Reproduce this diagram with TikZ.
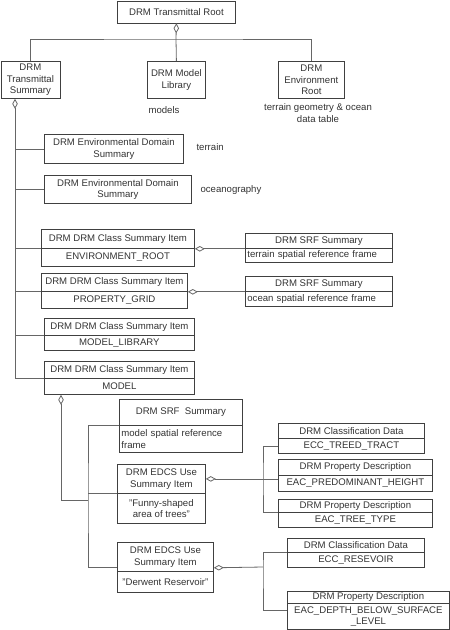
\documentclass[tikz,border=0pt]{standalone}
\usepackage{fontspec}
\setmainfont{Liberation Sans}
\usetikzlibrary{arrows.meta}

\begin{document}
	\begin{tikzpicture}[ x = 1pt, y = -1pt,
		every node/.style = { font = \fontsize{9.6}{11.5}\selectfont, text = black!80 },
		box/.style = { draw = black!75, line width = 0.8pt, anchor = north west, inner sep = 0pt, align = center },
		lbox/.style = { box, align = left, inner xsep = 2pt },
		link/.style = { draw = black!60, line width = 0.8pt },
		agg/.style = { link, {Diamond[ open, length = 10pt, width = 5.5pt ]}- } ]
		\useasboundingbox ( 0, 0 ) rectangle ( 450, 630 );

		% верхний уровень
		\node [ box, minimum width = 118pt, minimum height = 22pt ] (root) at ( 117, 0.5 ) {DRM Transmittal Root};
		\node [ box, minimum width = 59pt, minimum height = 37pt ] (tsum) at ( 0.5, 61 ) {DRM\\Transmittal\\Summary};
		\node [ box, minimum width = 58pt, minimum height = 37pt ] (mlib) at ( 147, 61 ) {DRM Model\\Library};
		\node [ box, minimum width = 66pt, minimum height = 37pt ] (envr) at ( 278, 61 ) {DRM\\Environment\\Root};
		\node (models) at ( 164, 110 ) {models};
		\node [ align = center ] (envtxt) at ( 318, 113 ) {terrain geometry \& ocean\\data table};
		\draw [ agg ] (root.south) -- ( 176, 39 ) coordinate (bus);
		\draw [ link ] (tsum.north) |- (bus) -| (envr.north);
		\draw [ link ] (bus) -- (mlib.north);

		% домены
		\node [ box, minimum width = 139pt, minimum height = 29pt ] (eds1) at ( 44, 134 ) {DRM Environmental Domain\\Summary};
		\node [ anchor = west ] (terrain) at ( 193, 147 ) {terrain};
		\node [ box, minimum width = 147pt, minimum height = 28pt ] (eds2) at ( 44, 175 ) {DRM Environmental Domain\\Summary};
		\node [ anchor = west ] (ocean) at ( 197, 190 ) {oceanography};

		% элементы классов
		\node [ box, minimum width = 153pt, minimum height = 19pt ] (cenv) at ( 41, 229 ) {DRM DRM Class Summary Item};
		\node [ box, minimum width = 153pt, minimum height = 18pt ] (cenvb) at ( 41, 248 ) {ENVIRONMENT\_ROOT};
		\node [ box, minimum width = 146pt, minimum height = 18pt ] (cprop) at ( 41, 273 ) {DRM DRM Class Summary Item};
		\node [ box, minimum width = 146pt, minimum height = 17pt ] (cpropb) at ( 41, 291 ) {PROPERTY\_GRID};
		\node [ box, minimum width = 150pt, minimum height = 17pt ] (cmlib) at ( 44, 318 ) {DRM DRM Class Summary Item};
		\node [ box, minimum width = 150pt, minimum height = 15pt ] (cmlibb) at ( 44, 335 ) {MODEL\_LIBRARY};
		\node [ box, minimum width = 150pt, minimum height = 17pt ] (cmod) at ( 44, 361 ) {DRM DRM Class Summary Item};
		\node [ box, minimum width = 150pt, minimum height = 16pt ] (cmodb) at ( 44, 378 ) {MODEL};

		% SRF
		\node [ box, minimum width = 147pt, minimum height = 15pt ] (srf1) at ( 245, 233 ) {DRM SRF Summary};
		\node [ lbox, text width = 143pt, minimum height = 14pt ] (srf1b) at ( 245, 248 ) {terrain spatial reference frame};
		\node [ box, minimum width = 147pt, minimum height = 15pt ] (srf2) at ( 245, 276 ) {DRM SRF Summary};
		\node [ lbox, text width = 143pt, minimum height = 15pt ] (srf2b) at ( 245, 291 ) {ocean spatial reference frame};
		\draw [ agg ] (cenv.south east) -- (srf1.south west);
		\draw [ agg ] (cprop.south east) -- (srf2.south west);

		% ствол от Transmittal Summary
		\coordinate (spine) at ([xshift=14.5pt]tsum.south west);
		\draw [ agg ] (spine) -- (spine |- cmod.south west) -- (cmod.south west);
		\draw [ link ] (spine |- eds1.west) -- (eds1.west);
		\draw [ link ] (spine |- eds2.west) -- (eds2.west);
		\draw [ link ] (spine |- cenv.south west) -- (cenv.south west);
		\draw [ link ] (spine |- cprop.south west) -- (cprop.south west);
		\draw [ link ] (spine |- cmlib.south west) -- (cmlib.south west);

		% MODEL
		\node [ box, minimum width = 123pt, minimum height = 26pt ] (srf3) at ( 119, 399 ) {DRM SRF~ Summary};
		\node [ lbox, text width = 119pt, minimum height = 27pt ] (srf3b) at ( 119, 425 ) {model spatial reference\\frame};
		\node [ box, minimum width = 88pt, minimum height = 29pt ] (edcs1) at ( 117, 464 ) {DRM EDCS Use\\Summary Item};
		\node [ box, minimum width = 88pt, minimum height = 30pt ] (edcs1b) at ( 117, 493 ) {"Funny-shaped\\area of trees"};
		\node [ box, minimum width = 96pt, minimum height = 29pt ] (edcs2) at ( 117, 542 ) {DRM EDCS Use\\Summary Item};
		\node [ box, minimum width = 96pt, minimum height = 21pt ] (edcs2b) at ( 117, 571 ) {"Derwent Reservoir"};
		\coordinate (mdia) at ([xshift=17pt]cmodb.south west);
		\coordinate (mbus) at ( 88, 500 );
		\draw [ agg ] (mdia) |- (mbus);
		\draw [ link ] (srf3.south west) -| (mbus) |- ([yshift=4pt]edcs2.south west);
		\draw [ link ] (mbus |- edcs1.south west) -- (edcs1.south west);

		% деревья
		\node [ box, minimum width = 146pt, minimum height = 15pt ] (cd1) at ( 278, 423 ) {DRM Classification Data};
		\node [ box, minimum width = 146pt, minimum height = 15pt ] (cd1b) at ( 278, 438 ) {ECC\_TREED\_TRACT};
		\node [ box, minimum width = 154pt, minimum height = 16pt ] (pd1) at ( 278, 459 ) {DRM Property Description};
		\node [ box, minimum width = 154pt, minimum height = 16pt ] (pd1b) at ( 278, 475 ) {EAC\_PREDOMINANT\_HEIGHT};
		\node [ box, minimum width = 154pt, minimum height = 13pt ] (pd2) at ( 278, 499 ) {DRM Property Description};
		\node [ box, minimum width = 154pt, minimum height = 15pt ] (pd2b) at ( 278, 512 ) {EAC\_TREE\_TYPE};
		\coordinate (tbus) at ( 263, 478.5 );
		\draw [ agg ] (edcs1.east) -- (edcs1.east -| pd1b.west);
		\draw [ link ] (cd1b.west) -| (tbus) |- (pd2.south west);

		% водохранилище
		\node [ box, minimum width = 137pt, minimum height = 14pt ] (cd2) at ( 287, 538 ) {DRM Classification Data};
		\node [ box, minimum width = 137pt, minimum height = 15pt ] (cd2b) at ( 287, 552 ) {ECC\_RESEVOIR};
		\node [ box, minimum width = 162pt, minimum height = 12pt ] (pd3) at ( 287, 591 ) {DRM Property Description};
		\node [ box, minimum width = 162pt, minimum height = 26pt ] (pd3b) at ( 287, 603 ) {EAC\_DEPTH\_BELOW\_SURFACE\\\_LEVEL};
		\coordinate (rbus) at ( 263, 567 );
		\draw [ agg ] ([yshift=4pt]edcs2.south east) -- (rbus);
		\draw [ link ] (cd2.south west) -| (rbus) |- ([yshift=-7pt]pd3.south west);
	\end{tikzpicture}
\end{document}
